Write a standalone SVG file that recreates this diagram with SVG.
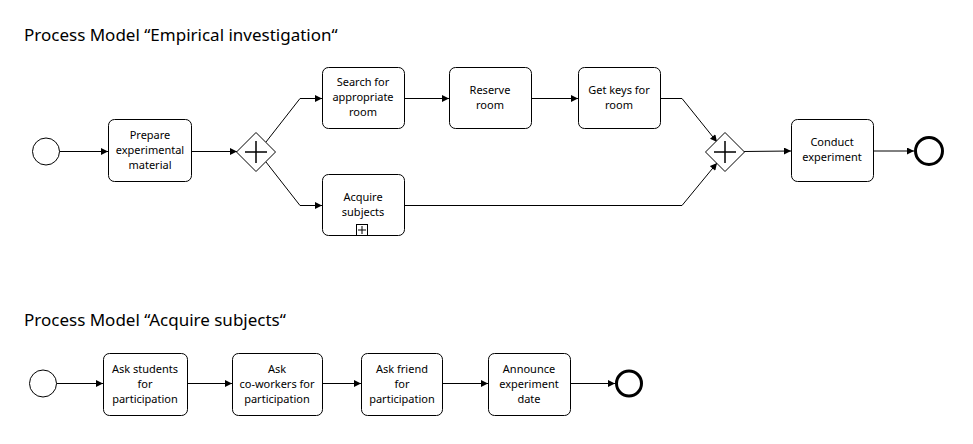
<svg xmlns="http://www.w3.org/2000/svg" width="973" height="444" viewBox="0 0 973 444">
<style>
.title{font-family:"Noto Sans","Open Sans",sans-serif;font-size:17px;fill:#000}
.task rect{fill:#fff;stroke:#000;stroke-width:1}
.task text{font-family:"Noto Sans","Open Sans",sans-serif;font-size:11px;fill:#000;text-anchor:middle}
.ev{fill:#fff;stroke:#000;stroke-width:1}
.end{fill:#fff;stroke:#000;stroke-width:3}
.gw{fill:#fff;stroke:#000;stroke-width:1}
.plus{stroke:#000;stroke-width:1.5;fill:none}
.flow{fill:none;stroke:#000;stroke-width:1}
</style>
<defs>
<marker id="arr" viewBox="0 0 10 10" refX="10" refY="5" markerWidth="9" markerHeight="7" markerUnits="userSpaceOnUse" orient="auto">
<path d="M0,0 L10,5 L0,10 z" fill="#000"/>
</marker>
</defs>
<rect width="973" height="444" fill="#fff"/>
<text class="title" x="24" y="41">Process Model “Empirical investigation“</text>
<text class="title" x="24" y="326">Process Model “Acquire subjects“</text>

<g id="connectors">
<path class="flow" marker-end="url(#arr)" d="M59.5,151.5 H108"/>
<path class="flow" marker-end="url(#arr)" d="M192,151.5 H237"/>
<path class="flow" marker-end="url(#arr)" d="M266,142 L300,98.5 H322"/>
<path class="flow" marker-end="url(#arr)" d="M266,162 L300,205.5 H322"/>
<path class="flow" marker-end="url(#arr)" d="M404,98.5 H449"/>
<path class="flow" marker-end="url(#arr)" d="M532,98.5 H578"/>
<path class="flow" marker-end="url(#arr)" d="M661,98.5 H682 L717,142"/>
<path class="flow" marker-end="url(#arr)" d="M405,205.5 H682 L717,163"/>
<path class="flow" marker-end="url(#arr)" d="M744,151.5 L791,151"/>
<path class="flow" marker-end="url(#arr)" d="M874,151 H914"/>
<path class="flow" marker-end="url(#arr)" d="M56.5,383.5 H103"/>
<path class="flow" marker-end="url(#arr)" d="M188,383.5 H232"/>
<path class="flow" marker-end="url(#arr)" d="M323,383.5 H361"/>
<path class="flow" marker-end="url(#arr)" d="M443,383.5 H488"/>
<path class="flow" marker-end="url(#arr)" d="M571,383.5 H615"/>
</g>

<g id="start1"><circle class="ev" cx="46" cy="151.5" r="13.5"/></g>
<g id="task-prepare" class="task"><rect x="108.5" y="119.5" width="83" height="62" rx="6"/>
<text x="150" y="139">Prepare</text><text x="150" y="154">experimental</text><text x="150" y="169">material</text></g>
<g id="gw-split"><path class="gw" d="M256,132.5 L275.5,152 L256,171.5 L236.5,152 z"/><path class="plus" d="M245,152 H267 M256,141 V163"/></g>
<g id="task-search" class="task"><rect x="322.5" y="67.5" width="82" height="61" rx="6"/>
<text x="363" y="86">Search for</text><text x="363" y="101">appropriate</text><text x="363" y="116">room</text></g>
<g id="task-reserve" class="task"><rect x="449.5" y="67.5" width="82" height="61" rx="6"/>
<text x="490" y="94">Reserve</text><text x="490" y="109">room</text></g>
<g id="task-keys" class="task"><rect x="578.5" y="67.5" width="82" height="61" rx="6"/>
<text x="619" y="94">Get keys for</text><text x="619" y="109">room</text></g>
<g id="task-acquire" class="task"><rect x="322.5" y="174.5" width="82" height="61" rx="6"/>
<text x="363" y="201">Acquire</text><text x="363" y="216">subjects</text>
<rect x="356.5" y="224.5" width="11" height="11" rx="0"/><path class="plus" style="stroke-width:1" d="M358,230 H366 M362,226 V234"/></g>
<g id="gw-join"><path class="gw" d="M725,132.5 L744.5,152 L725,171.5 L705.5,152 z"/><path class="plus" d="M714,152 H736 M725,141 V163"/></g>
<g id="task-conduct" class="task"><rect x="791.5" y="119.5" width="82" height="62" rx="6"/>
<text x="832" y="146">Conduct</text><text x="832" y="161">experiment</text></g>
<g id="end1"><circle class="end" cx="929" cy="151" r="13.5"/></g>

<g id="start2"><circle class="ev" cx="43" cy="383.5" r="13.5"/></g>
<g id="task-students" class="task"><rect x="103.5" y="353.5" width="84" height="62" rx="6"/>
<text x="145" y="373">Ask students</text><text x="145" y="388">for</text><text x="145" y="403">participation</text></g>
<g id="task-coworkers" class="task"><rect x="232.5" y="353.5" width="90" height="62" rx="6"/>
<text x="277" y="373">Ask</text><text x="277" y="388">co-workers for</text><text x="277" y="403">participation</text></g>
<g id="task-friend" class="task"><rect x="361.5" y="353.5" width="81" height="62" rx="6"/>
<text x="402" y="373">Ask friend</text><text x="402" y="388">for</text><text x="402" y="403">participation</text></g>
<g id="task-announce" class="task"><rect x="488.5" y="353.5" width="82" height="62" rx="6"/>
<text x="529" y="373">Announce</text><text x="529" y="388">experiment</text><text x="529" y="403">date</text></g>
<g id="end2"><circle class="end" cx="629" cy="383.5" r="12.5"/></g>
</svg>
